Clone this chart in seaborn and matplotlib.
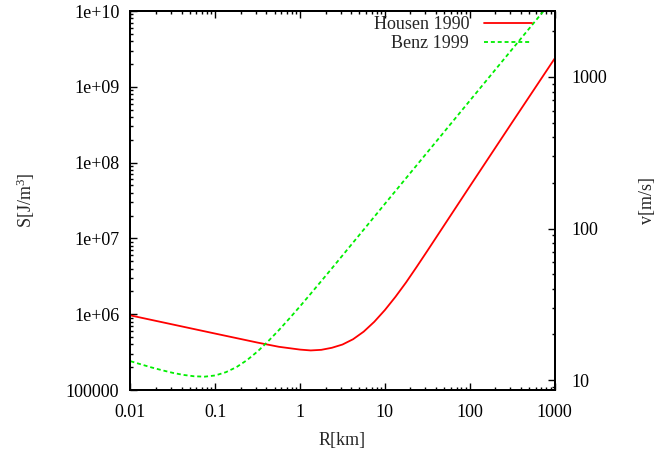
import numpy as np
import pandas as pd
import matplotlib
matplotlib.use('Agg')
import matplotlib.pyplot as plt
from matplotlib.ticker import LogLocator, NullFormatter
import seaborn as sns

# log10 of radius [km] and strength [J/m^3]
housen_logR = [-2.0, -1.5, -1.0, -0.5, -0.25, 0.0, 0.125, 0.25, 0.375, 0.5, 0.625,
               0.75, 0.875, 1.0, 1.125, 1.25, 1.375, 1.5, 1.75, 2.0, 2.5, 3.0]
housen_logS = [5.984, 5.864, 5.744, 5.625, 5.570, 5.533, 5.522, 5.530, 5.557, 5.600, 5.670,
               5.770, 5.900, 6.055, 6.230, 6.420, 6.625, 6.835, 7.260, 7.685, 8.530, 9.370]

benz_logR = [-2.0, -1.875, -1.75, -1.625, -1.5, -1.375, -1.25, -1.125, -1.0, -0.875, -0.75,
             -0.625, -0.5, -0.375, -0.25, -0.125, 0.0, 0.125, 0.25, 0.375, 0.5,
             1.0, 1.5, 2.0, 2.5, 3.0]
benz_logS = [5.380, 5.338, 5.297, 5.260, 5.226, 5.199, 5.181, 5.176, 5.192, 5.235, 5.302,
             5.395, 5.510, 5.645, 5.790, 5.945, 6.105, 6.270, 6.437, 6.605, 6.775,
             7.456, 8.135, 8.815, 9.495, 10.175]

x_ticks = [0.01, 0.1, 1, 10, 100, 1000]
x_labels = ['0.01', '0.1', '1', '10', '100', '1000']
s_ticks = [1e5, 1e6, 1e7, 1e8, 1e9, 1e10]
s_labels = ['100000', '1e+06', '1e+07', '1e+08', '1e+09', '1e+10']
v_ticks = [10, 100, 1000]
v_labels = ['10', '100', '1000']
rho = 2700.0  # density used for the S -> v axis

FS = 13

sns.set_theme(style='ticks')
plt.rcParams['font.family'] = ['Liberation Serif', 'DejaVu Serif']
plt.rcParams['mathtext.fontset'] = 'custom'
plt.rcParams['mathtext.rm'] = 'Liberation Serif'
plt.rcParams['mathtext.it'] = 'Liberation Serif:italic'
plt.rcParams['font.size'] = FS

housen = pd.DataFrame({'R': np.power(10.0, housen_logR), 'S': np.power(10.0, housen_logS)})
benz = pd.DataFrame({'R': np.power(10.0, benz_logR), 'S': np.power(10.0, benz_logS)})

fig = plt.figure(figsize=(6.61, 4.49), dpi=100)
ax = fig.add_axes([0.1974, 0.1314, 0.8389 - 0.1974, 0.9755 - 0.1314])
ax.set_xscale('log')
ax.set_yscale('log')

sns.lineplot(data=housen, x='R', y='S', ax=ax, color='#ff0000', lw=1.3,
             label='Housen 1990')
sns.lineplot(data=benz, x='R', y='S', ax=ax, color='#00ee00', lw=1.3,
             label='Benz 1999')
ax.lines[-1].set_dashes([2.2, 1.6])

ax.set_xlim(0.01, 1000)
ax.set_ylim(1e5, 1e10)
ax.set_xticks(x_ticks, x_labels)
ax.set_yticks(s_ticks, s_labels)
ax.xaxis.set_minor_locator(LogLocator(base=10, subs=np.arange(2, 10)))
ax.yaxis.set_minor_locator(LogLocator(base=10, subs=np.arange(2, 10)))
ax.xaxis.set_minor_formatter(NullFormatter())
ax.yaxis.set_minor_formatter(NullFormatter())
ax.tick_params(which='both', direction='in', top=True, right=False, colors='black',
               labelsize=FS, width=1.0)
ax.tick_params(which='major', length=5)
ax.tick_params(which='minor', length=2.5)
ax.tick_params(axis='x', pad=10)
ax.tick_params(axis='y', pad=8)
for sp in ax.spines.values():
    sp.set_linewidth(1.4)
    sp.set_color('black')

ax.set_xlabel('R[km]', fontsize=FS, labelpad=8)
ax.set_ylabel('S[J/m$^3$]', fontsize=FS, labelpad=21)

# right axis: velocity equivalent of the strength
ax2 = ax.twinx()
ax2.set_yscale('log')
ax2.set_ylim(np.sqrt(2 * 1e5 / rho), np.sqrt(2 * 1e10 / rho))
ax2.set_yticks(v_ticks, v_labels)
ax2.yaxis.set_minor_locator(LogLocator(base=10, subs=np.arange(2, 10)))
ax2.yaxis.set_minor_formatter(NullFormatter())
ax2.tick_params(which='both', direction='in', colors='black', labelsize=FS, width=1.0)
ax2.tick_params(which='major', length=5, pad=12)
ax2.tick_params(which='minor', length=2.5)
ax2.set_ylabel('v[m/s]', fontsize=FS, labelpad=23)
for sp in ax2.spines.values():
    sp.set_linewidth(1.4)
    sp.set_color('black')

leg = ax.legend(loc='upper right', bbox_to_anchor=(0.969, 1.011), frameon=False,
                markerfirst=False, handlelength=2.7, handletextpad=0.8,
                labelspacing=0.12, borderpad=0, fontsize=FS)

plt.savefig('out.png', dpi=100)
